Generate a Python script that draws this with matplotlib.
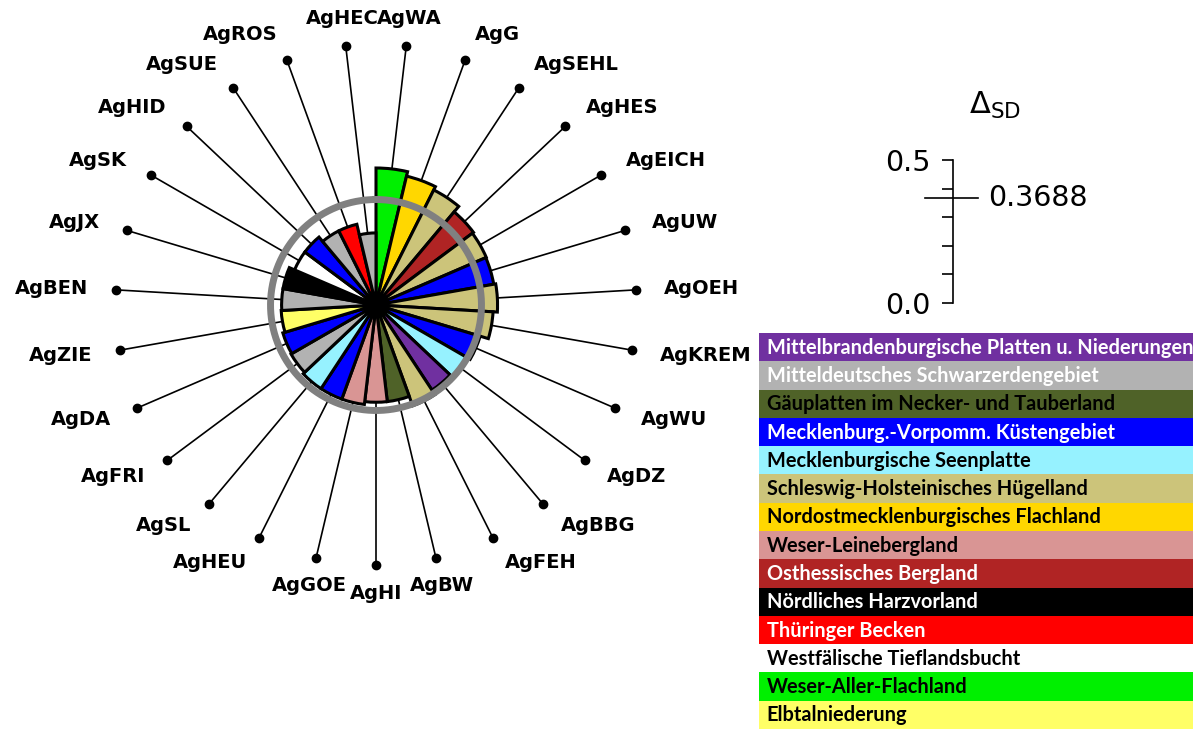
import numpy as np
import matplotlib.pyplot as plt

W, H = 1198, 729

# stations clockwise from the top
stations = ['AgWA', 'AgG', 'AgSEHL', 'AgHES', 'AgEICH', 'AgUW', 'AgOEH', 'AgKREM', 'AgWU',
            'AgDZ', 'AgBBG', 'AgFEH', 'AgBW', 'AgHI', 'AgGOE', 'AgHEU', 'AgSL', 'AgFRI',
            'AgDA', 'AgZIE', 'AgBEN', 'AgJX', 'AgSK', 'AgHID', 'AgSUE', 'AgROS', 'AgHEC']
delta_sd = [0.479, 0.463, 0.450, 0.425, 0.420, 0.418, 0.425, 0.410, 0.380,
            0.365, 0.356, 0.375, 0.340, 0.340, 0.350, 0.350, 0.350, 0.343,
            0.340, 0.332, 0.330, 0.330, 0.310, 0.310, 0.290, 0.290, 0.252]
station_region = ['WAF', 'NOF', 'SHH', 'OHB', 'SHH', 'MVK', 'SHH', 'SHH', 'MVK',
                  'MSP', 'MBP', 'SHH', 'GNT', 'WLB', 'WLB', 'MVK', 'MSP', 'MSE',
                  'MVK', 'ETN', 'MSE', 'NHV', 'WTB', 'MVK', 'MSE', 'THB', 'MSE']

region_keys = ['MBP', 'MSE', 'GNT', 'MVK', 'MSP', 'SHH', 'NOF', 'WLB', 'OHB', 'NHV',
               'THB', 'WTB', 'WAF', 'ETN']
region_names = ['Mittelbrandenburgische Platten u. Niederungen',
                'Mitteldeutsches Schwarzerdengebiet',
                'Gäuplatten im Necker- und Tauberland',
                'Mecklenburg.-Vorpomm. Küstengebiet',
                'Mecklenburgische Seenplatte',
                'Schleswig-Holsteinisches Hügelland',
                'Nordostmecklenburgisches Flachland',
                'Weser-Leinebergland',
                'Osthessisches Bergland',
                'Nördliches Harzvorland',
                'Thüringer Becken',
                'Westfälische Tieflandsbucht',
                'Weser-Aller-Flachland',
                'Elbtalniederung']
region_colors = ['#7030A0', '#B2B2B2', '#4F6228', '#0000FF', '#96F2FF', '#CCC47A', '#FFD700',
                 '#D99594', '#B02424', '#000000', '#FF0000', '#FFFFFF', '#00F000', '#FFFF66']
region_text = ['white', 'white', 'black', 'white', 'black', 'black', 'black',
               'black', 'white', 'white', 'white', 'black', 'black', 'black']

threshold = 0.3688
scale_ticks = [0.0, 0.5]


def px_box(x0, y0, x1, y1):
    # pixel box (top-left origin) -> figure fraction rect
    return [x0 / W, 1 - y1 / H, (x1 - x0) / W, (y1 - y0) / H]


fig = plt.figure(figsize=(W / 100, H / 100), dpi=100)

# polar chart, centre at (376, 305) px, 286 px per unit
cx, cy, scale, rmax = 376, 305, 286, 1.1
rpx = rmax * scale
ax = fig.add_axes(px_box(cx - rpx, cy - rpx, cx + rpx, cy + rpx), projection='polar')
ax.set_theta_zero_location('N')
ax.set_theta_direction(-1)
ax.set_ylim(0, rmax)
ax.set_axis_off()

n = len(stations)
width = 2 * np.pi / n
theta = (np.arange(n) + 0.5) * width
col_of = dict(zip(region_keys, region_colors))
bar_colors = [col_of[r] for r in station_region]

dot_r = 0.91
label_r = 1.007
for t, name in zip(theta, stations):
    ax.plot([t, t], [0, dot_r], color='black', lw=1.2, zorder=1)
    ax.plot(t, dot_r, 'o', color='black', ms=6, zorder=1)
    s = np.sin(t)
    ha = 'left' if s > 0.3 else ('right' if s < -0.3 else 'center')
    ax.text(t, label_r, name, ha=ha, va='center', fontsize=14, fontweight='bold',
            family='DejaVu Sans', clip_on=False)

ax.bar(theta, delta_sd, width=width, color=bar_colors, edgecolor='black', lw=2.2, zorder=2)
ring = np.linspace(0, 2 * np.pi, 400)
ax.fill_between(ring, 0, 0.04, color='black', zorder=2.5)  # hub where the edges meet
ax.plot(ring, np.full_like(ring, threshold), color='#808080', lw=5, zorder=3)

# scale bar for Delta_SD
sx = fig.add_axes(px_box(953, 160, 1053, 303))
sx.set_xlim(0, 1)
sx.set_ylim(0, 0.5)
for sp in ['top', 'right', 'bottom']:
    sx.spines[sp].set_visible(False)
sx.spines['left'].set_linewidth(1.2)
sx.set_xticks([])
sx.set_yticks(scale_ticks)
sx.set_yticklabels(['%.1f' % v for v in scale_ticks])
sx.set_yticks(np.arange(0.1, 0.5, 0.1), minor=True)
sx.tick_params(axis='y', which='both', direction='out', length=8, width=1.2,
               labelsize=20.5, pad=8)
sx.patch.set_alpha(0)
sx.plot([-0.28, 0.25], [threshold, threshold], color='black', lw=1.2, clip_on=False)
sx.text(0.35, threshold, '%.4f' % threshold, fontsize=20.5, va='center', ha='left')
sx.text(0.42, 0.5 + 0.19, r'$\Delta_{\mathrm{SD}}$', fontsize=22, ha='center', va='center',
        clip_on=False)

# colour legend
lx = fig.add_axes(px_box(759, 333, 1193, 729))
lx.set_xlim(0, 1)
lx.set_ylim(len(region_names), 0)
lx.set_axis_off()
lx.barh(np.arange(len(region_names)), 1, height=1, left=0, align='edge',
        color=region_colors, edgecolor='none')
for i, (name, tc) in enumerate(zip(region_names, region_text)):
    lx.text(0.018, i + 0.52, name, color=tc, fontsize=14.4, fontweight='bold',
            family='Lato', va='center', ha='left')

fig.savefig('out.png', dpi=100)
